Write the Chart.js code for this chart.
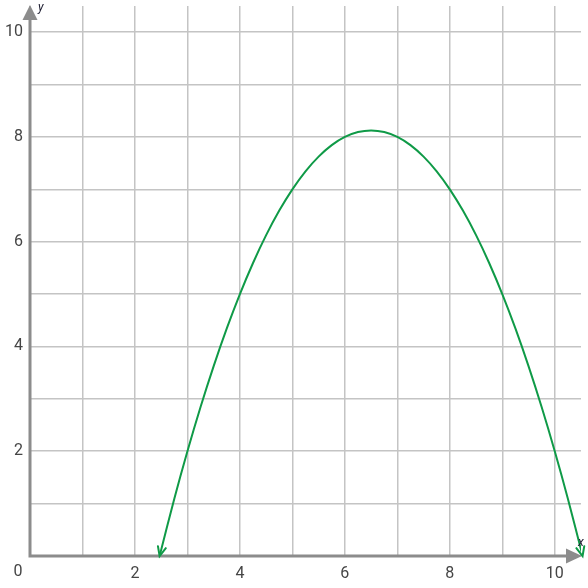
<!DOCTYPE html>
<html>
<head>
<meta charset="utf-8">
<script src="https://cdn.jsdelivr.net/npm/chart.js@4.4.0/dist/chart.umd.min.js"></script>
<style>
html,body{margin:0;padding:0;background:#fff;}
#wrap{width:588px;height:588px;}
</style>
</head>
<body>
<div id="wrap"><canvas id="c" width="588" height="588"></canvas></div>
<script>
const xValues = [2.47, 2.75, 3, 3.25, 3.5, 3.75, 4, 4.25, 4.5, 4.75, 5, 5.25, 5.5, 5.75, 6, 6.25, 6.5,
                 6.75, 7, 7.25, 7.5, 7.75, 8, 8.25, 8.5, 8.75, 9, 9.25, 9.5, 9.75, 10, 10.25, 10.53];
const yValues = [0, 1.094, 2.0, 2.844, 3.625, 4.344, 5.0, 5.594, 6.125, 6.594, 7.0, 7.344, 7.625, 7.844, 8.0, 8.094, 8.125,
                 8.094, 8.0, 7.844, 7.625, 7.344, 7.0, 6.594, 6.125, 5.594, 5.0, 4.344, 3.625, 2.844, 2.0, 1.094, 0];
const gridValues = [0, 1, 2, 3, 4, 5, 6, 7, 8, 9, 10];
const xTickLabels = ['2', '4', '6', '8', '10'];
const yTickLabels = ['2', '4', '6', '8', '10'];
const originLabel = '0';
const xAxisName = 'x';
const yAxisName = 'y';

const GREEN = '#0f9a47';
const AXIS = '#8c8c8c';
const GRID = '#c4c4c4';
const LABEL = '#454545';

const points = xValues.map((x, i) => ({x: x, y: yValues[i]}));

const axesPlugin = {
  id: 'axesPlugin',
  afterDatasetsDraw(chart) {
    const ctx = chart.ctx;
    const xs = chart.scales.x, ys = chart.scales.y;
    const x0 = xs.getPixelForValue(0), y0 = ys.getPixelForValue(0);
    const xEnd = xs.right + 1, yEnd = ys.top - 1;
    ctx.save();
    ctx.strokeStyle = AXIS;
    ctx.lineWidth = 3;
    ctx.beginPath();
    ctx.moveTo(x0, y0 + 1.5);
    ctx.lineTo(x0, yEnd + 14);
    ctx.moveTo(x0 - 1.5, y0);
    ctx.lineTo(xEnd - 14, y0);
    ctx.stroke();
    ctx.fillStyle = AXIS;
    ctx.beginPath();
    ctx.moveTo(x0, yEnd);
    ctx.lineTo(x0 - 7.5, yEnd + 15);
    ctx.lineTo(x0 + 7.5, yEnd + 15);
    ctx.closePath();
    ctx.fill();
    ctx.beginPath();
    ctx.moveTo(xEnd, y0);
    ctx.lineTo(xEnd - 16, y0 - 7.5);
    ctx.lineTo(xEnd - 16, y0 + 7.5);
    ctx.closePath();
    ctx.fill();

    const meta = chart.getDatasetMeta(0);
    const pts = meta.data;
    function arrow(p, q) {
      const ang = Math.atan2(p.y - q.y, p.x - q.x);
      const L = 10, a = 0.42;
      ctx.strokeStyle = GREEN;
      ctx.lineWidth = 2;
      ctx.lineCap = 'round';
      ctx.beginPath();
      ctx.moveTo(p.x - L * Math.cos(ang - a), p.y - L * Math.sin(ang - a));
      ctx.lineTo(p.x, p.y);
      ctx.lineTo(p.x - L * Math.cos(ang + a), p.y - L * Math.sin(ang + a));
      ctx.stroke();
    }
    if (pts.length > 1) {
      arrow(pts[0], pts[1]);
      arrow(pts[pts.length - 1], pts[pts.length - 2]);
    }

    ctx.fillStyle = LABEL;
    ctx.font = '16px Roboto';
    ctx.textAlign = 'center';
    ctx.textBaseline = 'middle';
    ctx.fillText(originLabel, x0 - 12, y0 + 16);
    ctx.fillStyle = '#1a1a2e';
    ctx.font = 'italic 12px Roboto';
    ctx.textAlign = 'left';
    ctx.fillText(yAxisName, x0 + 8, yEnd + 3);
    ctx.fillText(xAxisName, xEnd - 4, y0 - 13);
    ctx.restore();
  }
};

new Chart(document.getElementById('c'), {
  type: 'scatter',
  data: {
    datasets: [{
      data: points,
      showLine: true,
      borderColor: GREEN,
      borderWidth: 2,
      pointRadius: 0,
      tension: 0.3,
      fill: false
    }]
  },
  options: {
    responsive: false,
    animation: false,
    devicePixelRatio: 1,
    layout: {padding: {top: 6, right: 7, left: 0, bottom: 0}},
    plugins: {legend: {display: false}, tooltip: {enabled: false}},
    scales: {
      x: {
        type: 'linear', min: 0, max: 10.5,
        afterBuildTicks: s => { s.ticks = gridValues.map(v => ({value: v})); },
        afterFit: s => { s.height = 32; s.paddingLeft = 0; s.paddingRight = 0; },
        border: {display: false},
        grid: {color: GRID, lineWidth: 1.5, drawTicks: false},
        ticks: {
          stepSize: 1, padding: 8, color: LABEL, font: {family: 'Roboto', size: 16},
          autoSkip: false, maxRotation: 0,
          callback: v => { const s = String(v); return xTickLabels.includes(s) ? s : ''; }
        }
      },
      y: {
        type: 'linear', min: 0, max: 10.5,
        afterBuildTicks: s => { s.ticks = gridValues.map(v => ({value: v})); },
        afterFit: s => { s.width = 30; s.paddingTop = 0; s.paddingBottom = 0; },
        border: {display: false},
        grid: {color: GRID, lineWidth: 1.5, drawTicks: false},
        ticks: {
          stepSize: 1, padding: 7, color: LABEL, font: {family: 'Roboto', size: 16},
          autoSkip: false,
          callback: v => { const s = String(v); return yTickLabels.includes(s) ? s : ''; }
        }
      }
    }
  },
  plugins: [axesPlugin]
});
</script>
</body>
</html>
